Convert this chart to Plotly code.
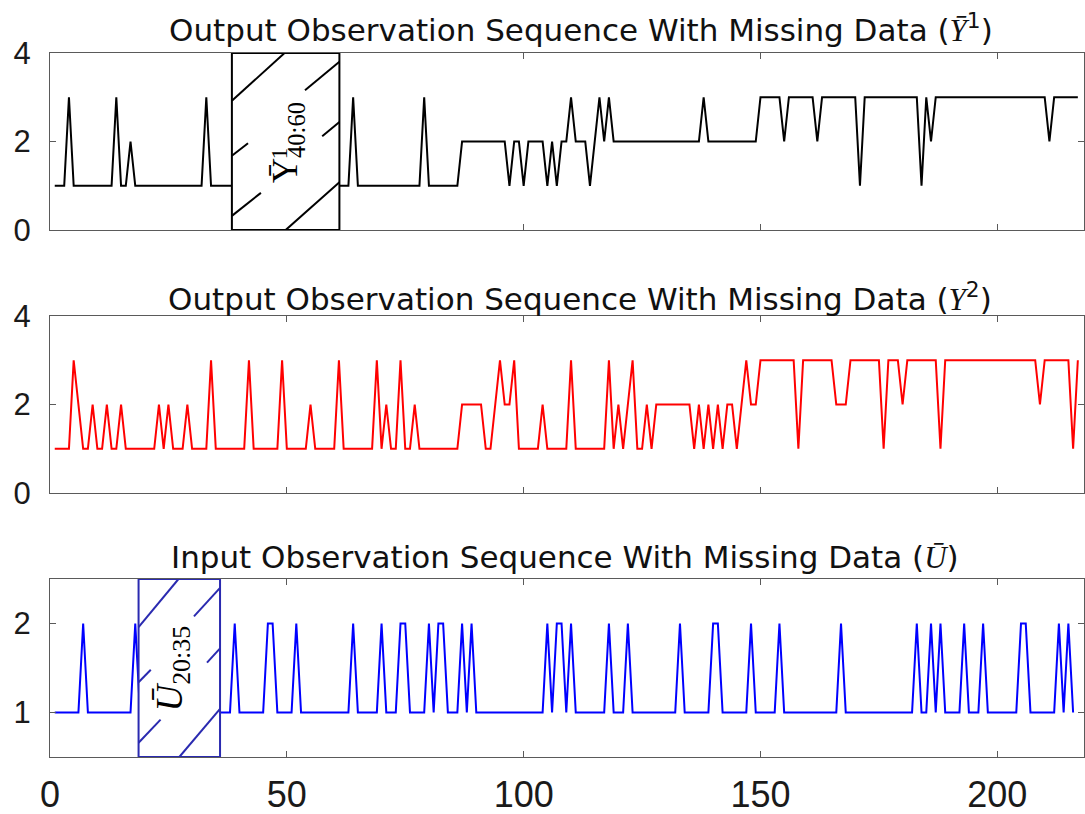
import plotly.graph_objects as go
from plotly.subplots import make_subplots

N = None

# ---------------- data ----------------
t_y1 = list(range(1, 218))
y1 = [
    1, 1, 1, 3, 1, 1, 1, 1, 1, 1,
    1, 1, 1, 3, 1, 1, 2, 1, 1, 1,
    1, 1, 1, 1, 1, 1, 1, 1, 1, 1,
    1, 1, 3, 1, 1, 1, 1, 1, 1, N,
    N, N, N, N, N, N, N, N, N, N,
    N, N, N, N, N, N, N, N, N, N,
    1, 1, 1, 3, 1, 1, 1, 1, 1, 1,
    1, 1, 1, 1, 1, 1, 1, 1, 3, 1,
    1, 1, 1, 1, 1, 1, 2, 2, 2, 2,
    2, 2, 2, 2, 2, 2, 1, 2, 2, 1,
    2, 2, 2, 2, 1, 2, 1, 2, 2, 3,
    2, 2, 2, 1, 2, 3, 2, 3, 2, 2,
    2, 2, 2, 2, 2, 2, 2, 2, 2, 2,
    2, 2, 2, 2, 2, 2, 2, 3, 2, 2,
    2, 2, 2, 2, 2, 2, 2, 2, 2, 3,
    3, 3, 3, 3, 2, 3, 3, 3, 3, 3,
    3, 2, 3, 3, 3, 3, 3, 3, 3, 3,
    1, 3, 3, 3, 3, 3, 3, 3, 3, 3,
    3, 3, 3, 1, 3, 2, 3, 3, 3, 3,
    3, 3, 3, 3, 3, 3, 3, 3, 3, 3,
    3, 3, 3, 3, 3, 3, 3, 3, 3, 3,
    2, 3, 3, 3, 3, 3, 3,
]

t_y2 = list(range(1, 218))
y2 = [
    1, 1, 1, 1, 3, 2, 1, 1, 2, 1,
    1, 2, 1, 1, 2, 1, 1, 1, 1, 1,
    1, 1, 2, 1, 2, 1, 1, 1, 2, 1,
    1, 1, 1, 3, 1, 1, 1, 1, 1, 1,
    1, 3, 1, 1, 1, 1, 1, 1, 3, 1,
    1, 1, 1, 1, 2, 1, 1, 1, 1, 1,
    3, 1, 1, 1, 1, 1, 1, 1, 3, 1,
    2, 1, 1, 3, 1, 1, 2, 1, 1, 1,
    1, 1, 1, 1, 1, 1, 2, 2, 2, 2,
    2, 1, 1, 2, 3, 2, 2, 3, 1, 1,
    1, 1, 1, 2, 1, 1, 1, 1, 1, 3,
    1, 1, 1, 1, 1, 1, 1, 3, 1, 2,
    1, 2, 3, 1, 1, 2, 1, 2, 2, 2,
    2, 2, 2, 2, 2, 1, 2, 1, 2, 1,
    2, 1, 2, 2, 1, 2, 3, 2, 2, 3,
    3, 3, 3, 3, 3, 3, 3, 1, 3, 3,
    3, 3, 3, 3, 3, 2, 2, 2, 3, 3,
    3, 3, 3, 3, 3, 1, 3, 3, 3, 2,
    3, 3, 3, 3, 3, 3, 3, 1, 3, 3,
    3, 3, 3, 3, 3, 3, 3, 3, 3, 3,
    3, 3, 3, 3, 3, 3, 3, 3, 2, 3,
    3, 3, 3, 3, 3, 1, 3,
]

t_u = list(range(1, 217))
u = [
    1, 1, 1, 1, 1, 1, 2, 1, 1, 1,
    1, 1, 1, 1, 1, 1, 1, 2, 1, N,
    N, N, N, N, N, N, N, N, N, N,
    N, N, N, N, N, 1, 1, 1, 2, 1,
    1, 1, 1, 1, 1, 2, 2, 1, 1, 1,
    1, 2, 1, 1, 1, 1, 1, 1, 1, 1,
    1, 1, 1, 2, 1, 1, 1, 1, 1, 2,
    1, 1, 1, 2, 2, 1, 1, 1, 1, 2,
    1, 2, 2, 1, 1, 1, 2, 1, 2, 1,
    1, 1, 1, 1, 1, 1, 1, 1, 1, 1,
    1, 1, 1, 1, 2, 1, 2, 2, 1, 2,
    1, 1, 1, 1, 1, 1, 1, 2, 1, 1,
    1, 2, 1, 1, 1, 1, 1, 1, 1, 1,
    1, 1, 2, 1, 1, 1, 1, 1, 1, 2,
    2, 1, 1, 1, 1, 1, 1, 2, 1, 1,
    1, 1, 1, 2, 1, 1, 1, 1, 1, 1,
    1, 1, 1, 1, 1, 1, 2, 1, 1, 1,
    1, 1, 1, 1, 1, 1, 1, 1, 1, 1,
    1, 1, 2, 1, 1, 2, 1, 2, 1, 1,
    1, 1, 2, 1, 1, 1, 2, 1, 1, 1,
    1, 1, 1, 1, 2, 2, 1, 1, 1, 1,
    1, 1, 2, 1, 2, 1,
]

x_ticks = [0, 50, 100, 150, 200]
y_ticks_out = [0, 2, 4]
y_ticks_in = [1, 2]

titles = [
    "Output Observation Sequence With Missing Data (<span style='font-family:Liberation Serif'><i>Ȳ</i></span><sup>1</sup>)",
    "Output Observation Sequence With Missing Data (<span style='font-family:Liberation Serif'><i>Y</i></span><sup>2</sup>)",
    "Input Observation Sequence With Missing Data (<span style='font-family:Liberation Serif'><i>Ū</i></span>)",
]

# missing-data boxes (x extent)
box_y1 = [38.4, 61.1]
box_u = [18.7, 35.9]

# ---------------- figure ----------------
fig = make_subplots(rows=3, cols=1)

fig.add_trace(go.Scatter(x=t_y1, y=y1, mode="lines", line=dict(color="#000000", width=2),
                         connectgaps=False, showlegend=False), row=1, col=1)
fig.add_trace(go.Scatter(x=t_y2, y=y2, mode="lines", line=dict(color="#ff0000", width=2),
                         connectgaps=False, showlegend=False), row=2, col=1)
fig.add_trace(go.Scatter(x=t_u, y=u, mode="lines", line=dict(color="#0000ff", width=2),
                         connectgaps=False, showlegend=False), row=3, col=1)

W, H = 1085, 814
domains = [[0.7174, 0.9349], [0.3943, 0.6118], [0.0700, 0.2887]]
yranges = [[0, 4], [0, 4], [0.5, 2.5]]
yticks = [y_ticks_out, y_ticks_out, y_ticks_in]
frame = "#5a5a5a"

for i in range(3):
    xa = "xaxis" if i == 0 else f"xaxis{i+1}"
    ya = "yaxis" if i == 0 else f"yaxis{i+1}"
    fig.layout[xa].update(
        domain=[0, 1], range=[0, 218.3], tickvals=x_ticks, automargin=False,
        showticklabels=(i == 2), ticks="inside", ticklen=6, tickcolor=frame,
        showline=True, linecolor=frame, linewidth=1, mirror="ticks",
        showgrid=False, zeroline=False, ticklabelstandoff=6,
        tickfont=dict(family="Liberation Sans Narrow, Liberation Sans, Arial", size=36, color="#1a1a1a"),
    )
    fig.layout[ya].update(
        domain=domains[i], range=yranges[i], tickvals=yticks[i], automargin=False,
        ticks="inside", ticklen=6, tickcolor=frame,
        showline=True, linecolor=frame, linewidth=1, mirror="ticks",
        showgrid=False, zeroline=False, ticklabelstandoff=12,
        tickfont=dict(family="Liberation Sans, Arial", size=31, color="#1a1a1a"),
    )

# hatch segments in box-relative coordinates (u, v)
hatch = [
    ((0.0, 0.73), (0.49, 1.0)),
    ((0.0, 0.42), (0.15, 0.49)),
    ((0.68, 0.79), (1.0, 0.95)),
    ((0.0, 0.08), (0.27, 0.21)),
    ((0.84, 0.53), (1.0, 0.61)),
    ((0.50, 0.0), (1.0, 0.27)),
]

def add_box(xr, yr, xref, yref, color):
    fig.add_shape(type="rect", x0=xr[0], x1=xr[1], y0=yr[0], y1=yr[1],
                  xref=xref, yref=yref, fillcolor="white",
                  line=dict(color=color, width=2), layer="above")
    for (u0, v0), (u1, v1) in hatch:
        fig.add_shape(type="line",
                      x0=xr[0] + u0 * (xr[1] - xr[0]), x1=xr[0] + u1 * (xr[1] - xr[0]),
                      y0=yr[0] + v0 * (yr[1] - yr[0]), y1=yr[0] + v1 * (yr[1] - yr[0]),
                      xref=xref, yref=yref, line=dict(color=color, width=2), layer="above")

add_box(box_y1, [0, 4], "x", "y", "#000000")
add_box(box_u, [0.5, 2.5], "x3", "y3", "#2a2ab0")

# rotated labels inside boxes
fig.add_annotation(x=50.2, y=1.98, xref="x", yref="y", showarrow=False, textangle=-90,
                   text="Ȳ<sub>40:60</sub>",
                   font=dict(family="Liberation Serif, DejaVu Serif", size=35, color="#000000"))
fig.add_annotation(x=48.4, y=1.74, xref="x", yref="y", showarrow=False, textangle=-90,
                   text="1",
                   font=dict(family="Liberation Serif, DejaVu Serif", size=23, color="#000000"))
fig.add_annotation(x=25.9, y=1.49, xref="x3", yref="y3", showarrow=False, textangle=-90,
                   text="<i>Ū</i><sub>20:35</sub>",
                   font=dict(family="Liberation Serif, DejaVu Serif", size=37, color="#000000"))

# titles
title_pos = [(0.5135, (H - 28) / H), (0.5126, (H - 297) / H), (0.498, (H - 557) / H)]
for (tx, ty), ttl in zip(title_pos, titles):
    fig.add_annotation(x=tx, y=ty, xref="paper", yref="paper", showarrow=False,
                       xanchor="center", yanchor="middle", text=ttl,
                       font=dict(family="DejaVu Sans", size=31, color="#111111"))

fig.update_layout(
    width=W, height=H,
    margin=dict(l=50, r=1, t=0, b=0, autoexpand=False),
    paper_bgcolor="white", plot_bgcolor="white",
    showlegend=False,
)

fig.write_html("out.html", config={"displayModeBar": False},
               post_script="document.body.style.margin='0px';")
